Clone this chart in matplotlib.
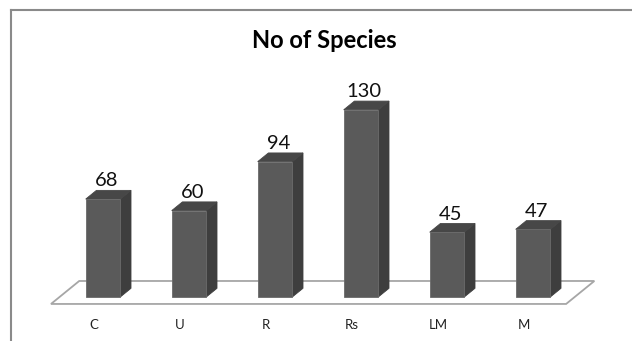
import matplotlib
matplotlib.use("Agg")
import matplotlib.pyplot as plt
from matplotlib.patches import Polygon
from matplotlib.lines import Line2D

categories = ["C", "U", "R", "Rs", "LM", "M"]
species = [68, 60, 94, 130, 45, 47]

W, H = 632, 341
fig = plt.figure(figsize=(W / 100, H / 100), dpi=100)
ax = fig.add_axes([0, 0, 1, 1])
ax.axis("off")

# pixel scale of the plot: one category slot and one species unit
slot_px, unit_px = 86.0, 1.44
x0_px, base_px = 103.0, 297.0
ax.set_xlim(-x0_px / slot_px, (W - x0_px) / slot_px)
ax.set_ylim(-(H - base_px) / unit_px, base_px / unit_px)

# 3d depth offset and bar half width, in data units
dx = 10.7 / slot_px
dy = 8.7 / unit_px
hw = 17.3 / slot_px

# floor
n = len(categories)
fl, fr = -0.605, n - 1 + 0.385
floor = Polygon([(fl, -0.8 * dy), (fr, -0.8 * dy),
                 (fr + 2.64 * dx, 1.84 * dy), (fl + 2.64 * dx, 1.84 * dy)],
                closed=True, facecolor="white", edgecolor="#a6a6a6", lw=1.3, zorder=1)
ax.add_patch(floor)

for i, (cat, v) in enumerate(zip(categories, species)):
    l, r = i - hw, i + hw
    front = Polygon([(l, 0), (r, 0), (r, v), (l, v)], closed=True,
                    facecolor="#5a5a5a", edgecolor="#6a6a6a", lw=0.6, zorder=3)
    side = Polygon([(r, 0), (r + dx, dy), (r + dx, v + dy), (r, v)], closed=True,
                   facecolor="#3e3e3e", edgecolor="#3e3e3e", lw=0.6, zorder=2)
    top = Polygon([(l, v), (r, v), (r + dx, v + dy), (l + dx, v + dy)], closed=True,
                  facecolor="#474747", edgecolor="#474747", lw=0.6, zorder=2)
    for p in (side, top, front):
        ax.add_patch(p)
    ax.text(i + dx * 0.3, v + dy + 4 / unit_px, str(v), ha="center", va="baseline",
            fontsize=14.5, family="Lato", color="#111111", zorder=4)
    ax.text(i - 0.105, -28 / unit_px, cat, ha="center", va="center",
            fontsize=9.5, family="Lato", color="#222222")

# chart frame (top and left edges visible)
fig.add_artist(Line2D([11 / W, 1], [1 - 10 / H, 1 - 10 / H], color="#8a8a8a", lw=1.5))
fig.add_artist(Line2D([11 / W, 11 / W], [0, 1 - 10 / H], color="#8a8a8a", lw=1.5))

fig.text(324 / W, 1 - 40 / H, "No of Species", ha="center", va="center",
         fontsize=17, fontweight="bold", family="Lato", color="black")

fig.savefig("out.png", dpi=100)
